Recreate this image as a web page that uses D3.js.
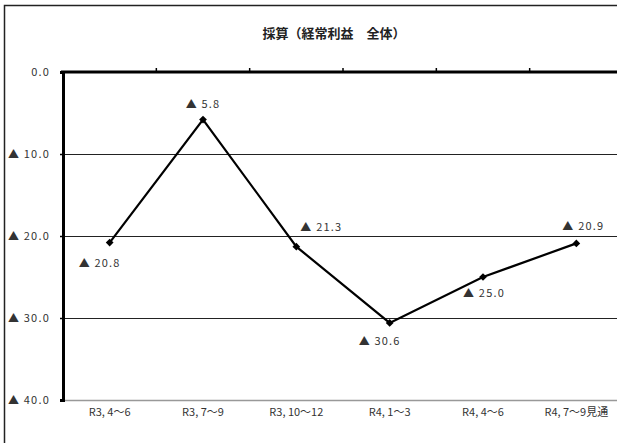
<!DOCTYPE html>
<html>
<head>
<meta charset="utf-8">
<script src="https://cdn.jsdelivr.net/npm/d3@7"></script>
<style>
  body { margin: 0; background: #fff; }
  text { font-family: "Noto Sans CJK JP", "DejaVu Sans", sans-serif; }
</style>
</head>
<body>
<div id="chart"></div>
<script>
// data
const title = "採算（経常利益　全体）";
const categories = ["R3, 4～6", "R3, 7～9", "R3, 10～12", "R4, 1～3", "R4, 4～6", "R4, 7～9見通"];
const values = [-20.8, -5.8, -21.3, -30.6, -25.0, -20.9];
const yTicks = [0, -10, -20, -30, -40];

// label offsets (px) relative to each point
const labelDx = [-10, 0, 25, -10, 1, 7];
const labelDy = [20, -16, -20, 18, 16, -17];

const width = 617, height = 443;
const margin = { left: 63, top: 72, right: 623, bottom: 400 };

// "▲ 20.8" style label
const fmt = v => v === 0 ? "0.0" : "▲\u00a0" + Math.abs(v).toFixed(1);

const svg = d3.select("#chart").append("svg")
  .attr("width", width)
  .attr("height", height);

// outer frame
svg.append("path")
  .attr("d", "M4.5," + height + " L4.5,5.5 L" + width + ",5.5")
  .attr("fill", "none")
  .attr("stroke", "#222")
  .attr("stroke-width", 1.5);

svg.append("text")
  .attr("x", 334)
  .attr("y", 38)
  .attr("text-anchor", "middle")
  .attr("font-size", "13px")
  .attr("font-weight", "bold")
  .attr("fill", "#222")
  .text(title);

const x = d3.scaleBand()
  .domain(categories)
  .range([margin.left, margin.right]);

const y = d3.scaleLinear()
  .domain([0, -40])
  .range([margin.top, margin.bottom]);

// gridlines
svg.append("g")
  .selectAll("line")
  .data(yTicks.filter(t => t !== 0))
  .enter()
  .append("line")
  .attr("x1", margin.left)
  .attr("x2", width)
  .attr("y1", d => Math.round(y(d)) + 0.5)
  .attr("y2", d => Math.round(y(d)) + 0.5)
  .attr("stroke", d => d === -40 ? "#999" : "#222")
  .attr("stroke-width", d => d === -40 ? 1.5 : 1.1);

// y axis
const yAxis = svg.append("g")
  .attr("transform", "translate(" + margin.left + ",0)")
  .call(d3.axisLeft(y).tickValues(yTicks).tickSize(3).tickPadding(10)
    .tickFormat(fmt));
yAxis.select(".domain").attr("stroke", "#000").attr("stroke-width", 3);
yAxis.selectAll(".tick line").attr("stroke", "#000").attr("stroke-width", 1.5);
yAxis.selectAll("text")
  .attr("font-size", "11px")
  .attr("fill", "#333")
  .attr("letter-spacing", "1.2px")
  .attr("font-family", "\"Noto Sans CJK JP\", sans-serif");

// top axis (zero line) with band ticks
svg.append("line")
  .attr("x1", margin.left - 2)
  .attr("x2", width)
  .attr("y1", margin.top)
  .attr("y2", margin.top)
  .attr("stroke", "#000")
  .attr("stroke-width", 3);

svg.append("g")
  .selectAll("line")
  .data(categories.slice(1))
  .enter()
  .append("line")
  .attr("x1", d => x(d))
  .attr("x2", d => x(d))
  .attr("y1", margin.top)
  .attr("y2", margin.top - 4)
  .attr("stroke", "#000")
  .attr("stroke-width", 1.5);

// category labels
svg.append("g")
  .selectAll("text")
  .data(categories)
  .enter()
  .append("text")
  .attr("x", d => x(d) + x.bandwidth() / 2)
  .attr("y", 416)
  .attr("text-anchor", "middle")
  .attr("font-size", "11px")
  .attr("fill", "#333")
  .text(d => d);

const cx = (d, i) => x(categories[i]) + x.bandwidth() / 2;

// line
const line = d3.line()
  .x((d, i) => cx(d, i))
  .y(d => y(d));

svg.append("path")
  .datum(values)
  .attr("d", line)
  .attr("fill", "none")
  .attr("stroke", "#000")
  .attr("stroke-width", 2.2);

// markers (square turned 45°)
svg.append("g")
  .selectAll("path")
  .data(values)
  .enter()
  .append("path")
  .attr("transform", (d, i) => "translate(" + cx(d, i) + "," + y(d) + ") rotate(45)")
  .attr("d", d3.symbol().type(d3.symbolSquare).size(30))
  .attr("fill", "#000");

// value labels
svg.append("g")
  .selectAll("text")
  .data(values)
  .enter()
  .append("text")
  .attr("x", (d, i) => cx(d, i) + labelDx[i])
  .attr("y", (d, i) => y(d) + labelDy[i] + 4)
  .attr("text-anchor", "middle")
  .attr("font-size", "11px")
  .attr("letter-spacing", "1.2px")
  .attr("fill", "#333")
  .text(fmt);
</script>
</body>
</html>
